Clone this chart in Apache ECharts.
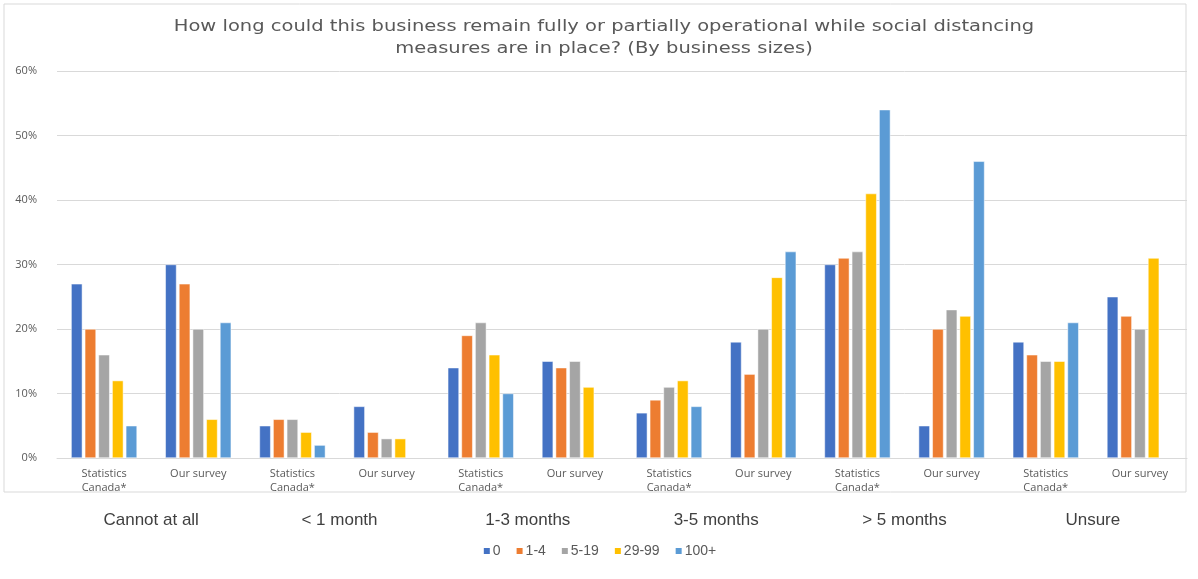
<!DOCTYPE html>
<html><head><meta charset="utf-8">
<script src="https://cdn.jsdelivr.net/npm/echarts@6/dist/echarts.min.js"></script>
<style>html,body{margin:0;padding:0;background:#fff}#c{width:1198px;height:579px}</style>
</head><body><div id="c"></div>
<script>
const titleText = "How long could this business remain fully or partially operational while social distancing\nmeasures are in place? (By business sizes)";
const categories = ["Statistics\nCanada*","Our survey","Statistics\nCanada*","Our survey","Statistics\nCanada*","Our survey","Statistics\nCanada*","Our survey","Statistics\nCanada*","Our survey","Statistics\nCanada*","Our survey"];
const groups = ["Cannot at all","< 1 month","1-3 months","3-5 months","> 5 months","Unsure"];
const seriesNames = ["0","1-4","5-19","29-99","100+"];
const s0 =    [27,30,5,8,14,15,7,18,30,5,18,25];
const s1_4 =  [20,27,6,4,19,14,9,13,31,20,16,22];
const s5_19 = [16,20,6,3,21,15,11,20,32,23,15,20];
const s29_99 =[12,6,4,3,16,11,12,28,41,22,15,31];
const s100 =  [5,21,2,null,10,null,8,32,54,46,21,null];
const yTicks = [0,10,20,30,40,50,60];
const colors = ["#4472C4","#ED7D31","#A5A5A5","#FFC000","#5B9BD5"];
const values = [s0,s1_4,s5_19,s29_99,s100];

const chart = echarts.init(document.getElementById('c'), null, {renderer:'canvas'});
chart.setOption({
  animation:false,
  color: colors,
  legend:{
    bottom:16, left:'center', itemWidth:8, itemHeight:8, itemGap:14, icon:'rect',
    textStyle:{fontFamily:"Liberation Sans Narrow, Liberation Sans", fontSize:14, color:'#595959', padding:[0,0,0,-3]},
    data: seriesNames
  },
  grid:{left:57, right:11, top:71, bottom:121},
  xAxis:[{
    type:'category', data:categories, position:'bottom',
    axisLine:{lineStyle:{color:'#d9d9d9'}}, axisTick:{show:false},
    axisLabel:{interval:0, fontFamily:"Open Sans", fontSize:11, color:'#595959', lineHeight:14, margin:9}
  },{
    type:'category', data:groups, position:'bottom', offset:46,
    axisLine:{show:false}, axisTick:{show:false},
    axisLabel:{interval:0, fontFamily:"Liberation Sans Narrow, Liberation Sans", fontSize:17, color:'#404040'}
  }],
  yAxis:{
    type:'value', min:0, max:60, interval:10,
    axisLabel:{formatter: v => v + '%', fontFamily:"Open Sans", fontSize:11, color:'#595959', margin:20},
    splitLine:{lineStyle:{color:'#d9d9d9'}}, axisLine:{show:false}, axisTick:{show:false}
  },
  series: seriesNames.map((n,i)=>({
    name:n, type:'bar', xAxisIndex:0, data:values[i],
    barCategoryGap:'30%', barGap:'22%',
    itemStyle:{color:colors[i], borderColor:'#ffffff', borderWidth:0.5}
  })),
  graphic:[
    {type:'rect', shape:{x:4,y:4,width:1182,height:488}, style:{fill:'none', stroke:'#d9d9d9', lineWidth:1}, silent:true, z:-1},
    {type:'text', x:604, y:16, scaleX:1.3, silent:true,
     style:{text:titleText, textAlign:'center', textVerticalAlign:'top', fontFamily:'DejaVu Sans', fontSize:15, lineHeight:22, fill:'#595959'}}
  ]
});
</script></body></html>
